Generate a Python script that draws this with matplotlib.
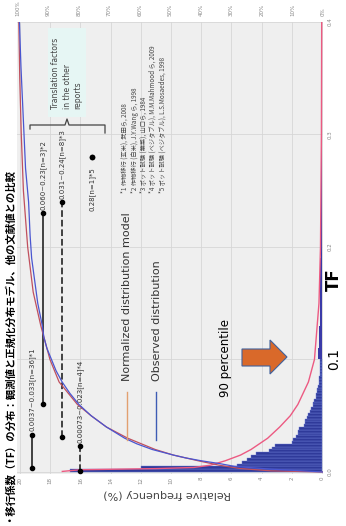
import numpy as np
import matplotlib.pyplot as plt
from matplotlib.patches import Polygon, Rectangle
from matplotlib.lines import Line2D

plt.rcParams["font.family"] = ["DejaVu Sans", "Noto Sans CJK JP"]

W, H = 346, 526

# observed TF histogram, relative frequency (%) per bin
fine_bin = 0.0025
fine_freq = [16.7, 12.0, 5.6, 5.3, 5.0, 4.7, 4.4, 3.5, 3.3, 3.1,
             2.0, 1.9, 1.7, 1.6, 1.6, 1.5, 1.2, 1.1, 1.1, 1.0,
             0.9, 0.8, 0.7, 0.6, 0.6, 0.5, 0.4, 0.4, 0.35, 0.3,
             0.25, 0.2, 0.2, 0.2, 0.15, 0.15, 0.1, 0.12, 0.1, 0.1]
tail_bin = 0.01
tail_freq = [0.25, 0.2, 0.2, 0.15, 0.15, 0.12, 0.1, 0.1, 0.1, 0.08,
             0.08, 0.06, 0.06, 0.05, 0.05, 0.05, 0.04, 0.04, 0.04, 0.03,
             0.03, 0.03, 0.03, 0.02, 0.02, 0.02, 0.02, 0.02, 0.02, 0.02]

# normalized distribution model (density, same scale)
pdf_tf = [0.0005, 0.002, 0.003, 0.004, 0.006, 0.008, 0.01, 0.015, 0.02, 0.03,
          0.04, 0.05, 0.06, 0.08, 0.1, 0.15, 0.2, 0.3, 0.4]
pdf_freq = [17.2, 16.0, 11.0, 8.5, 7.4, 6.9, 6.4, 5.4, 4.7, 3.6,
            2.8, 2.1, 1.6, 0.9, 0.5, 0.2, 0.1, 0.04, 0.02]

# cumulative curves (%)
model_tf = [0.0, 0.001, 0.003, 0.006, 0.01, 0.015, 0.02, 0.03, 0.04, 0.05,
            0.06, 0.08, 0.1, 0.13, 0.16, 0.2, 0.25, 0.3, 0.35, 0.4]
model_cum = [0, 17, 27, 34, 41, 49, 55, 64, 71, 76,
             80.5, 86.5, 89.5, 92.5, 95, 96.8, 98.2, 98.9, 99.4, 99.7]
obs_tf = [0.0, 0.0025, 0.005, 0.0075, 0.01, 0.0125, 0.015, 0.02, 0.025, 0.03,
          0.035, 0.04, 0.05, 0.06, 0.07, 0.08, 0.09, 0.1, 0.11, 0.12,
          0.13, 0.15, 0.17, 0.19, 0.21, 0.24, 0.27, 0.3, 0.33, 0.36, 0.4]
obs_cum = [0, 17, 29, 34, 40, 45, 49, 56, 61, 65,
           68, 71, 76, 80, 83, 85.5, 87.5, 89, 90.5, 91.5,
           92, 93.5, 94.5, 95.5, 96, 96.5, 97.5, 98, 98.5, 99, 99.5]

# TF ranges from other reports
ref_lo = [0.0037, 0.060, 0.031, 0.00073, 0.28]
ref_hi = [0.033, 0.23, 0.24, 0.023, 0.28]
ref_labels = ["0.0037~0.033[n=36]*1", "0.060~0.23[n=3]*2",
              "0.031~0.24[n=8]*3", "0.00073~0.023[n=4]*4", "0.28[n=1]*5"]
ref_notes = ["*1 作物移行 (玄米), 武田ら, 2008",
             "*2 作物移行 (白米), J.Y.Wang ら, 1998",
             "*3 ポット試験 (葉菜), 山口ら, 1984",
             "*4 ポット試験 (ベジタブル), M.M.Mahmood ら, 2009",
             "*5 ポット試験 (ベジタブル), L.S.Mosaedes, 1998"]

freq_ticks = list(range(0, 21, 2))
cum_ticks = list(range(0, 101, 10))
tf_ticks = [0.0, 0.1, 0.2, 0.3, 0.4]


def px(x, y):
    return x / W, 1 - y / H


fig = plt.figure(figsize=(W / 100, H / 100), dpi=100)
ax = fig.add_axes([17 / W, 1 - 474 / H, 306 / W, 452 / H])
ax.set_facecolor("#efefef")

fine_left = np.arange(len(fine_freq)) * fine_bin
tail_left = 0.1 + np.arange(len(tail_freq)) * tail_bin
ax.barh(fine_left, fine_freq, height=fine_bin, align="edge",
        color="#2f3a9a", edgecolor="#7080d8", linewidth=0.3, zorder=2)
ax.barh(tail_left, tail_freq, height=tail_bin, align="edge",
        color="#3a3aa8", linewidth=0, zorder=2)
ax.plot(pdf_freq, pdf_tf, color="#ec5a82", lw=1.0, zorder=3)

ax.set_xlim(20.2, -0.066)
ax.set_ylim(-0.0018, 0.4)
ax.set_xticks(freq_ticks)
ax.set_xticklabels([str(t) for t in freq_ticks], rotation=90, fontsize=4, color="#888888")
ax.yaxis.tick_right()
ax.set_yticks(tf_ticks)
ax.set_yticklabels([f"{t:.1f}" for t in tf_ticks], rotation=90, fontsize=4,
                   color="#888888", va="center")
for lbl in ax.get_yticklabels():
    if lbl.get_text() == "0.1":
        lbl.set_fontsize(10)
        lbl.set_color("black")
ax.tick_params(length=0, pad=2)
ax.tick_params(axis="y", pad=3)
ax.grid(True, color="#d6d6d6", lw=0.6, zorder=0)
ax.set_axisbelow(True)
for s in ax.spines.values():
    s.set_visible(False)

fig.text(*px(334, 280), "TF", rotation=90, ha="center", va="center",
         fontsize=12, fontweight="bold", color="black")

ax2 = ax.twiny()
ax2.plot(model_cum, model_tf, color="#c0505e", lw=0.9, zorder=4)
ax2.plot(obs_cum, obs_tf, color="#4a56d0", lw=0.9, zorder=4)
ax2.set_xlim(100.3, 0)
ax2.set_xticks(cum_ticks)
ax2.set_xticklabels([f"{t}%" for t in cum_ticks], rotation=90, fontsize=4, color="#888888")
ax2.tick_params(length=0, pad=4)
for s in ax2.spines.values():
    s.set_visible(False)

# report ranges as dumbbells
lanes = [19.2, 18.5, 17.2, 16.0, 15.2]
styles = ["-", "-", "--", "--", "-"]
for lane, lo, hi, lab, ls in zip(lanes, ref_lo, ref_hi, ref_labels, styles):
    ax.plot([lane, lane], [lo, hi], color="#333333", lw=1.3, ls=ls,
            marker="o", ms=3, mfc="black", mec="black", zorder=5)
    if lo == hi:
        ax.text(lane, hi - 0.009, lab, rotation=90, rotation_mode="anchor",
                ha="right", va="center", fontsize=5, color="#333333")
    else:
        ax.text(lane, hi + 0.003, lab, rotation=90, rotation_mode="anchor",
                ha="left", va="center", fontsize=5, color="#333333")

# bracket and note box
bx = [30, 30, 65, 67, 69, 105, 105]
by = [129, 125, 125, 119, 125, 125, 133]
fig.add_artist(Line2D([x / W for x in bx], [1 - y / H for y in by],
                      color="#444444", lw=0.9))
fig.add_artist(Rectangle(px(48, 117), 38 / W, 89 / H, facecolor="#e6f6f4",
                         edgecolor="none"))
for x, t in zip([56, 67, 78], ["Translation factors", "in the other", "reports"]):
    fig.text(*px(x, 109), t, rotation=90, rotation_mode="anchor", ha="left",
             va="center", fontsize=5.5, color="#444444")

# reference notes
for x, t in zip([125, 135, 144, 153, 163], ref_notes):
    fig.text(*px(x, 193), t, rotation=90, rotation_mode="anchor", ha="left",
             va="center", fontsize=4.5, color="#444444",
             family=["Noto Sans CJK JP", "DejaVu Sans"])

# legend
fig.add_artist(Line2D([127 / W, 127 / W], [1 - 392 / H, 1 - 440 / H], color="#e2a070", lw=1))
fig.add_artist(Line2D([156 / W, 156 / W], [1 - 392 / H, 1 - 440 / H], color="#3e5cb4", lw=1))
fig.text(*px(127, 381), "Normalized distribution model", rotation=90, rotation_mode="anchor",
         ha="left", va="center", fontsize=8, color="#333333")
fig.text(*px(157, 381), "Observed distribution", rotation=90, rotation_mode="anchor",
         ha="left", va="center", fontsize=8, color="#333333")

# 90 percentile arrow
fig.text(*px(225, 358), "90 percentile", rotation=90, rotation_mode="anchor",
         ha="center", va="center", fontsize=8.5, color="black")
arrow = [(242, 349), (270, 349), (270, 340), (287, 357), (270, 374), (270, 366), (242, 366)]
fig.add_artist(Polygon([px(x, y) for x, y in arrow], closed=True,
                       facecolor="#d9692a", edgecolor="#41619c", lw=0.8))

fig.text(*px(167, 494), "Relative frequency (%)", rotation=180, ha="center",
         va="center", fontsize=8, color="#444444")

fig.text(*px(7, 522), "・移行係数（TF）の分布：観測値と正規化分布モデル、他の文献値との比較",
         rotation=90, rotation_mode="anchor", ha="left", va="center", fontsize=7.5,
         fontweight="bold", color="black", family=["Noto Sans CJK JP", "DejaVu Sans"])

fig.savefig("out.png", dpi=100)
